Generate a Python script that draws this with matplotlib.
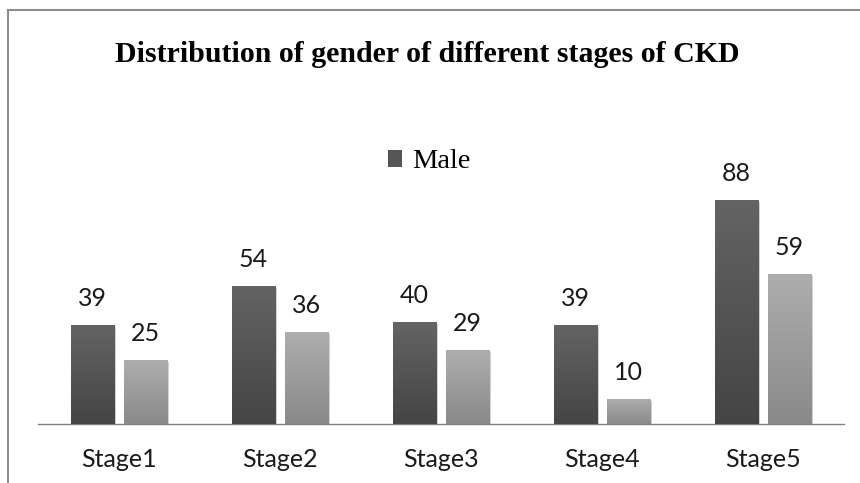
import numpy as np
import matplotlib.pyplot as plt
import matplotlib.patheffects as pe
from matplotlib.lines import Line2D
from matplotlib.patches import Patch

stages = ['Stage1', 'Stage2', 'Stage3', 'Stage4', 'Stage5']
male = [39, 54, 40, 39, 88]
female = [25, 36, 29, 10, 59]

W, H = 860, 483


def shade(ax, bars, top, bottom):
    # vertical gradient inside each bar, like the office chart
    grad = np.linspace(0, 1, 64).reshape(-1, 1)
    c0 = np.array(bottom)
    c1 = np.array(top)
    img = c0 + (c1 - c0) * grad[..., None]
    for b in bars:
        x, w, h = b.get_x(), b.get_width(), b.get_height()
        im = ax.imshow(img, extent=[x, x + w, 0, h], origin='lower',
                       aspect='auto', zorder=3, interpolation='bilinear')
        im.set_clip_path(b)


def main():
    fig = plt.figure(figsize=(W / 100, H / 100), dpi=100)
    ax = fig.add_axes([38 / W, 1 - 424 / H, (843.6 - 38) / W, 100 * 2.55 / H])

    x = np.arange(len(stages))
    bw = 0.267
    off = (bw + 0.062) / 2
    shadow = [pe.SimplePatchShadow(offset=(1.5, -1.5), shadow_rgbFace='black',
                                   alpha=0.18), pe.Normal()]
    b1 = ax.bar(x - off, male, bw, color='#555555', zorder=2)
    b2 = ax.bar(x + off, female, bw, color='#9b9b9b', zorder=2)
    for b in list(b1) + list(b2):
        b.set_path_effects(shadow)
    shade(ax, b1, (0.39, 0.39, 0.39), (0.27, 0.27, 0.27))
    shade(ax, b2, (0.68, 0.68, 0.68), (0.54, 0.54, 0.54))

    for bars, vals in ((b1, male), (b2, female)):
        for b, v in zip(bars, vals):
            ax.annotate(str(v), (b.get_x() + b.get_width() / 2, v),
                        xytext=(0, 19), textcoords='offset points',
                        ha='center', va='center', fontsize=18,
                        family='Lato', color='#1a1a1a')

    ax.set_xlim(-0.5, 4.5)
    ax.set_ylim(0, 100)
    ax.set_xticks(x)
    ax.set_xticklabels(stages, family='Lato', fontsize=18, color='#1a1a1a')
    ax.tick_params(axis='x', length=0, pad=17)
    ax.set_yticks([])
    for s in ('top', 'right', 'left'):
        ax.spines[s].set_visible(False)
    ax.spines['bottom'].set_color('#808080')
    ax.spines['bottom'].set_linewidth(1.0)

    fig.text(427 / W, 1 - 55 / H,
             'Distribution of gender of different stages of CKD',
             ha='center', va='center', family='Liberation Serif',
             fontweight='bold', fontsize=21.5)

    handle = Patch(facecolor='#555555', edgecolor='none')
    fig.legend([handle], ['Male'], loc='center',
               bbox_to_anchor=(429 / W, 1 - 162 / H), frameon=False,
               prop={'family': 'Liberation Serif', 'size': 20.5},
               handlelength=0.5, handleheight=0.5, handletextpad=0.35)

    # chart border (cut off at the right and bottom)
    fig.add_artist(Line2D([8 / W, 1], [1 - 10 / H, 1 - 10 / H],
                          transform=fig.transFigure, color='#8c8c8c', lw=1.5))
    fig.add_artist(Line2D([8 / W, 8 / W], [0, 1 - 10 / H],
                          transform=fig.transFigure, color='#8c8c8c', lw=1.5))

    plt.savefig('out.png', dpi=100)


if __name__ == '__main__':
    main()
